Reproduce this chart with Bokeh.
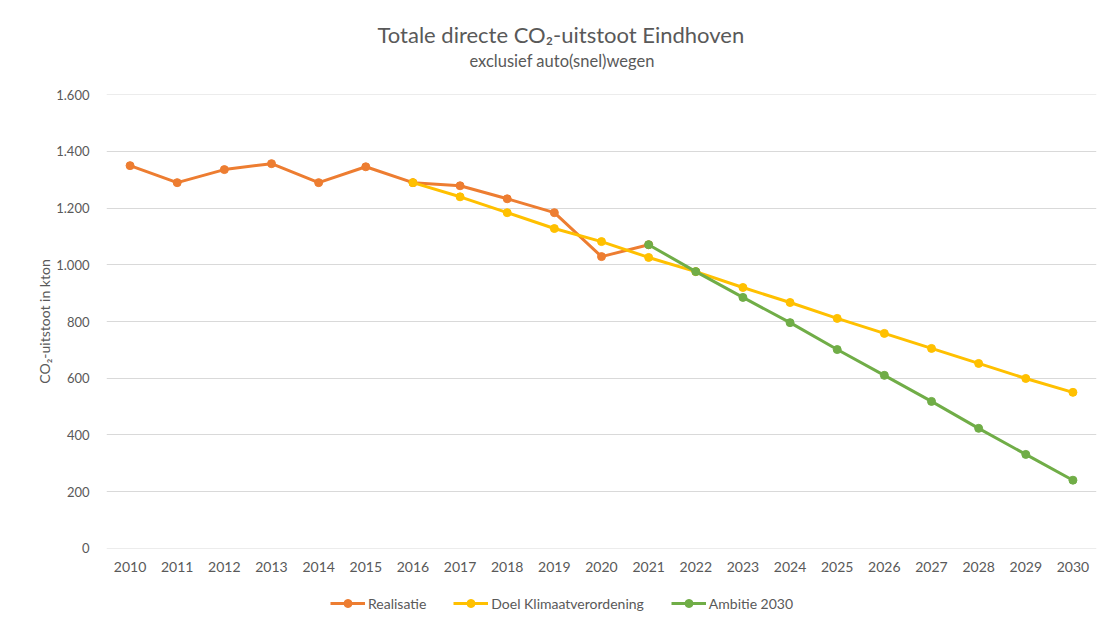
from bokeh.plotting import figure
from bokeh.models import Legend, LegendItem, Title, FixedTicker, Range1d
from bokeh.layouts import column
from bokeh.embed import file_html
from bokeh.resources import INLINE

years = [str(y) for y in range(2010, 2031)]

real_years = years[0:12]
realisatie = [1350, 1290, 1336, 1357, 1290, 1346, 1290, 1279, 1233, 1184, 1029, 1071]

doel_years = years[6:]
doel = [1290, 1240, 1184, 1128, 1082, 1026, 976, 920, 867, 811, 758, 705, 652, 599, 550]

amb_years = years[11:]
ambitie = [1071, 976, 885, 796, 701, 610, 518, 423, 331, 240]

y_ticks = [0, 200, 400, 600, 800, 1000, 1200, 1400, 1600]
y_tick_labels = ["0", "200", "400", "600", "800", "1.000", "1.200", "1.400", "1.600"]

FONT = "Lato"
GREY = "#595959"
W = 1106

p = figure(width=W, height=580, x_range=years, y_range=Range1d(-1, 1601),
           output_backend="svg", toolbar_location=None,
           min_border_left=106, min_border_right=10, min_border_top=94, min_border_bottom=32)

p.title.text = "Totale directe CO\u2082-uitstoot Eindhoven"
p.title.align = "left"
p.title.text_font = FONT
p.title.text_font_size = "22px"
p.title.text_font_style = "normal"
p.title.text_color = GREY
p.title.offset = 271
p.title.standoff = 2
# empty spacer between subtitle and plot area
p.add_layout(Title(text=" ", text_font_size="1px", standoff=21), "above")
p.add_layout(Title(text="exclusief auto(snel)wegen", align="left", text_font=FONT,
                   text_font_size="16.5px", text_font_style="normal", text_color=GREY,
                   standoff=0, offset=363), "above")

p.outline_line_color = None
p.xgrid.grid_line_color = None
p.ygrid.grid_line_color = "#d9d9d9"
p.ygrid.grid_line_width = 1

p.yaxis.ticker = FixedTicker(ticks=y_ticks)
p.yaxis.major_label_overrides = {t: l for t, l in zip(y_ticks, y_tick_labels)}
for ax in (p.xaxis[0], p.yaxis[0]):
    ax.axis_line_color = None
    ax.major_tick_line_color = None
    ax.minor_tick_line_color = None
    ax.major_label_text_font = FONT
    ax.major_label_text_color = GREY
p.yaxis.major_label_text_font_size = "13px"
p.xaxis.major_label_text_font_size = "14px"
p.yaxis.major_label_standoff = 11
p.xaxis.major_label_standoff = 7
p.yaxis.axis_label = "CO\u2082-uitstoot in kton"
p.yaxis.axis_label_text_font = FONT
p.yaxis.axis_label_text_font_size = "14px"
p.yaxis.axis_label_text_font_style = "normal"
p.yaxis.axis_label_text_color = GREY
p.yaxis.axis_label_standoff = 0
p.x_range.range_padding = 0

series = [
    ("Realisatie", real_years, realisatie, "#ED7D31"),
    ("Doel Klimaatverordening", doel_years, doel, "#FFC000"),
    ("Ambitie 2030", amb_years, ambitie, "#70AD47"),
]

# legend strip below the chart (dummy renderers lie outside its visible range)
q = figure(width=W, height=44, x_range=Range1d(0, 1), y_range=Range1d(0, 1),
           output_backend="svg", toolbar_location=None,
           min_border_left=0, min_border_right=0, min_border_top=0, min_border_bottom=0)
q.axis.visible = False
q.grid.visible = False
q.outline_line_color = None

items = []
for name, xs, ys, col in series:
    p.line(xs, ys, line_color=col, line_width=3)
    p.scatter(xs, ys, marker="circle", size=8, fill_color=col, line_color=col)
    l = q.line(x=[-10, -9], y=[-10, -10], line_color=col, line_width=3)
    s = q.scatter(x=[-10, -9], y=[-10, -10], marker="circle", size=8, fill_color=col, line_color=col)
    items.append(LegendItem(label=name, renderers=[l, s]))

legend = Legend(items=items, orientation="horizontal", location=(224, 11),
                label_text_font=FONT, label_text_font_size="14px", label_text_color=GREY,
                glyph_width=35, label_standoff=3, spacing=27, border_line_color=None,
                margin=0, padding=0, background_fill_alpha=0)
q.add_layout(legend, "center")

open("out.html", "w").write(file_html(column(p, q, spacing=0), INLINE))
